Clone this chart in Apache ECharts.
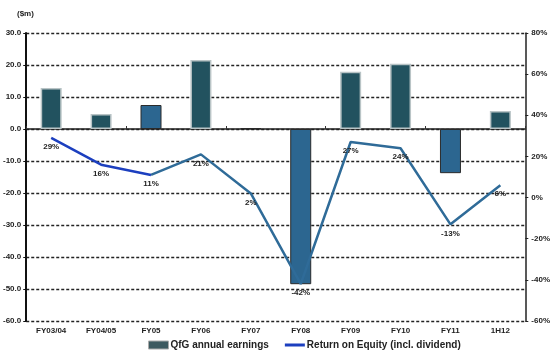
<!DOCTYPE html>
<html>
<head>
<meta charset="utf-8">
<script src="https://cdn.jsdelivr.net/npm/echarts@6/dist/echarts.min.js"></script>
<style>
  html, body { margin: 0; padding: 0; background: #fff; }
  #chart { width: 553px; height: 357px; }
</style>
</head>
<body>
<div id="chart"></div>
<script>
// Financial years shown along the bottom
const years = ['FY03/04', 'FY04/05', 'FY05', 'FY06', 'FY07', 'FY08', 'FY09', 'FY10', 'FY11', '1H12'];
// Annual earnings, $m
const earnings = [12.8, 4.7, 7.5, 21.6, 0.3, -48.5, 17.9, 20.4, -13.8, 5.6];
// Return on equity including dividend, %
const roe = [29, 16, 11, 21, 2, -42, 27, 24, -13, 6];
// Which bars use the outlined teal finish (others are plain blue)
const tealBar = [true, true, false, true, false, false, true, true, false, true];
// The ROE line is drawn in bright blue up to this year index, steel blue after
const earlySplit = 2;

const FONT = '"Liberation Sans", Arial, sans-serif';
const TEAL = '#22525f', BLUE = '#2c6690', LINE = '#2f6b98', LINE_DARK = '#1c3fbf';
const ROE_NAME = 'Return on Equity (incl. dividend)';

const chart = echarts.init(document.getElementById('chart'), null, { renderer: 'canvas' });

const barData = earnings.map((v, i) => ({
  value: v,
  itemStyle: tealBar[i]
    ? { color: TEAL, borderColor: '#b9c4c6', borderWidth: 1.5 }
    : { color: BLUE, borderColor: '#2b2b2b', borderWidth: 1 }
}));

// Two stretches of the same ROE series, sharing the point at earlySplit
const roeEarly = roe.map((v, i) => (i <= earlySplit ? v : '-'));
const roeLate = roe.map((v, i) => (i >= earlySplit ? v : '-'));

const roeLabel = (skip) => ({
  show: true, position: 'bottom', distance: 5,
  fontFamily: FONT, fontSize: 8, fontWeight: 'bold', color: '#222',
  formatter: p => (p.dataIndex === skip ? '' : p.value + '%')
});

const lineSeries = (data, color, skip) => ({
  name: ROE_NAME, type: 'line', xAxisIndex: 0, yAxisIndex: 1,
  data, symbol: 'circle', symbolSize: 0, showSymbol: true, z: 3,
  color, itemStyle: { color }, lineStyle: { width: 2.5, color },
  label: roeLabel(skip)
});

chart.setOption({
  animation: false,
  textStyle: { fontFamily: FONT },
  grid: { left: 25, right: 25, top: 33, bottom: 36, containLabel: false },
  graphic: [{
    type: 'text', left: 17, top: 10,
    style: { text: '($m)', font: 'bold 8px ' + FONT, fill: '#222' }
  }],
  legend: {
    bottom: 2, left: 143, itemGap: 16, itemWidth: 20, itemHeight: 8,
    symbolKeepAspect: true,
    textStyle: { fontFamily: FONT, fontSize: 10, color: '#222', fontWeight: 'bold', padding: [0, 0, 0, -3] },
    data: [
      { name: 'QfG annual earnings', icon: 'rect', itemStyle: { color: '#3d5a60', borderColor: '#aaa', borderWidth: 1 } },
      { name: ROE_NAME, icon: 'path://M0,0 L20,0 L20,3 L0,3 Z', itemStyle: { color: LINE_DARK, borderWidth: 0 } }
    ]
  },
  xAxis: [{
    type: 'category', data: years, position: 'bottom',
    axisLine: { show: false }, axisTick: { show: false },
    axisLabel: { fontFamily: FONT, fontSize: 8, fontWeight: 'bold', color: '#222', margin: 6 }
  }, {
    // Zero line with its tick marks between categories
    type: 'category', data: years,
    axisLine: { onZero: true, onZeroAxisIndex: 0, lineStyle: { color: '#222', width: 1.5 } },
    axisTick: { show: true, inside: false, length: 3, lineStyle: { color: '#333' } },
    axisLabel: { show: false }
  }],
  yAxis: [{
    type: 'value', min: -60, max: 30, interval: 10, position: 'left',
    axisLine: { show: true, lineStyle: { color: '#111', width: 2 } },
    axisTick: { show: true, length: 3, lineStyle: { color: '#111' } },
    axisLabel: {
      fontFamily: FONT, fontSize: 8, fontWeight: 'bold', color: '#222', margin: 5,
      formatter: v => v.toFixed(1)
    },
    splitLine: { show: true, lineStyle: { color: '#222', type: [3, 2], width: 1.3 } }
  }, {
    type: 'value', min: -60, max: 80, interval: 20, position: 'right',
    axisLine: { show: true, lineStyle: { color: '#222', width: 1.5 } },
    axisTick: { show: true, length: 3, lineStyle: { color: '#222' } },
    axisLabel: {
      fontFamily: FONT, fontSize: 8, fontWeight: 'bold', color: '#222', margin: 6,
      formatter: v => v + '%'
    },
    splitLine: { show: false }
  }],
  series: [{
    name: 'QfG annual earnings', type: 'bar', xAxisIndex: 0, yAxisIndex: 0,
    barWidth: 21, data: barData, z: 2
  },
  lineSeries(roeEarly, LINE_DARK, -1),
  lineSeries(roeLate, LINE, earlySplit)]
});
</script>
</body>
</html>
